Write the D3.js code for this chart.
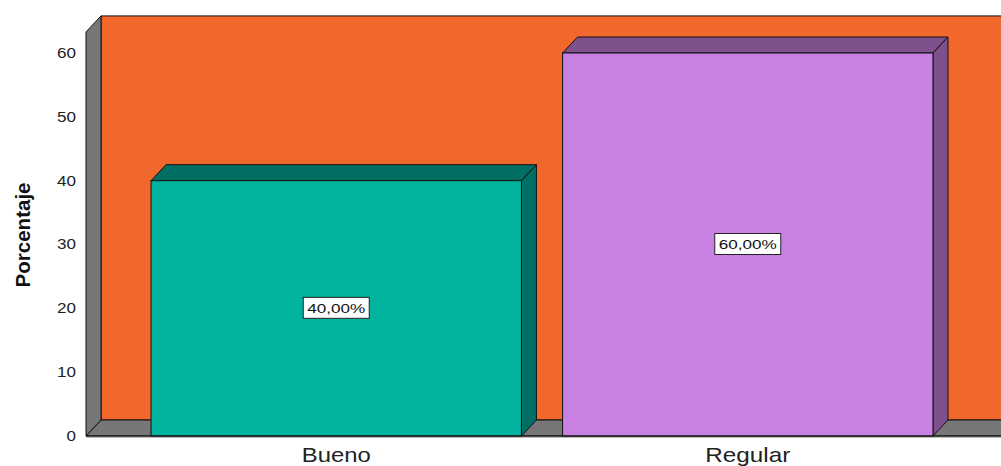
<!DOCTYPE html>
<html><head><meta charset="utf-8">
<script src="https://cdn.jsdelivr.net/npm/d3@7"></script>
<style>body{margin:0;background:#fff}svg{display:block}text{font-family:"Liberation Sans",Arial,sans-serif}</style>
</head><body><svg id="c" width="1001" height="466"></svg>
<script>
const categories = ["Bueno", "Regular"];
const values = [40, 60];
const valueLabels = ["40,00%", "60,00%"];
const ticks = [0, 10, 20, 30, 40, 50, 60];
const frontColors = ["#00b4a0", "#c980e3"];
const darkColors = ["#006e62", "#7e518d"];
const yMax = 63.3;

const svg = d3.select("#c");
const dx = 15, dy = 16;
const y = d3.scaleLinear().domain([0, 60]).range([436, 53]);
const x = d3.scaleBand().domain(categories).range([86, 998]).paddingInner(0.1).paddingOuter(0.158);
const x0 = 86, xR = 1020;
const line = d3.line();

// back wall
svg.append("path").attr("d", line([[x0+dx, y(yMax)-dy],[xR, y(yMax)-dy],[xR, y(0)-dy],[x0+dx, y(0)-dy]]) + "Z")
  .attr("fill", "#f2672c").attr("stroke", "#111").attr("stroke-width", 1);
// floor
svg.append("path").attr("d", line([[x0, y(0)],[x0+dx, y(0)-dy],[xR, y(0)-dy],[xR, y(0)]]) + "Z")
  .attr("fill", "#777").attr("stroke", "#111").attr("stroke-width", 1);
// left wall
svg.append("path").attr("d", line([[x0, y(yMax)],[x0+dx, y(yMax)-dy],[x0+dx, y(0)-dy],[x0, y(0)]]) + "Z")
  .attr("fill", "#777").attr("stroke", "#111").attr("stroke-width", 1);

// bars
const g = svg.append("g");
categories.forEach((c, i) => {
  const xl = x(c), xr = x(c) + x.bandwidth(), yt = y(values[i]), yb = y(0);
  g.append("path").attr("d", line([[xl, yt],[xl+dx, yt-dy],[xr+dx, yt-dy],[xr, yt]]) + "Z")
    .attr("fill", darkColors[i]).attr("stroke", "#111").attr("stroke-width", 1);
  g.append("path").attr("d", line([[xr, yt],[xr+dx, yt-dy],[xr+dx, yb-dy],[xr, yb]]) + "Z")
    .attr("fill", darkColors[i]).attr("stroke", "#111").attr("stroke-width", 1);
  g.append("rect").attr("x", xl).attr("y", yt).attr("width", x.bandwidth()).attr("height", yb - yt)
    .attr("fill", frontColors[i]).attr("stroke", "#111").attr("stroke-width", 1);
  // value label
  const cx = xl + x.bandwidth()/2, cy = y(values[i]/2);
  g.append("rect").attr("x", cx - 33).attr("y", cy - 11).attr("width", 66).attr("height", 21)
    .attr("fill", "#fff").attr("stroke", "#222").attr("stroke-width", 1);
  g.append("text").attr("x", cx).attr("y", cy).attr("text-anchor", "middle")
    .attr("dominant-baseline", "central").attr("font-size", 13).attr("fill", "#111")
    .attr("textLength", 58).attr("lengthAdjust", "spacingAndGlyphs").text(valueLabels[i]);
});
// front floor line
svg.append("line").attr("x1", x0).attr("x2", xR).attr("y1", y(0)).attr("y2", y(0)).attr("stroke", "#111");
svg.append("line").attr("x1", x0).attr("x2", xR).attr("y1", y(0)+1.5).attr("y2", y(0)+1.5).attr("stroke", "#bbb");

// y axis
const ya = svg.append("g").attr("transform", "translate(80,0)")
  .call(d3.axisLeft(y).tickValues(ticks).tickSize(0).tickPadding(4).tickFormat(d3.format("d")));
ya.select(".domain").remove();
ya.selectAll("text").attr("font-size", 14).attr("fill", "#222").attr("font-family", "Liberation Sans, Arial, sans-serif")
  .attr("textLength", d => String(d).length * 9.5).attr("lengthAdjust", "spacingAndGlyphs");

// x axis labels
const catLen = {"Bueno": 69, "Regular": 85};
const xa = svg.append("g").attr("transform", `translate(0,${y(0)})`)
  .call(d3.axisBottom(x).tickSize(0).tickPadding(0));
xa.select(".domain").remove();
xa.selectAll("text").attr("font-size", 21).attr("fill", "#222").attr("dy", null).attr("y", 26)
  .attr("font-family", "Liberation Sans, Arial, sans-serif")
  .attr("textLength", d => catLen[d]).attr("lengthAdjust", "spacingAndGlyphs");

// y title
svg.append("text").attr("transform", "translate(30,235) rotate(-90)").attr("text-anchor", "middle")
  .attr("font-size", 20).attr("font-weight", "bold").attr("fill", "#111")
  .attr("textLength", 105).attr("lengthAdjust", "spacingAndGlyphs").text("Porcentaje");
</script></body></html>
